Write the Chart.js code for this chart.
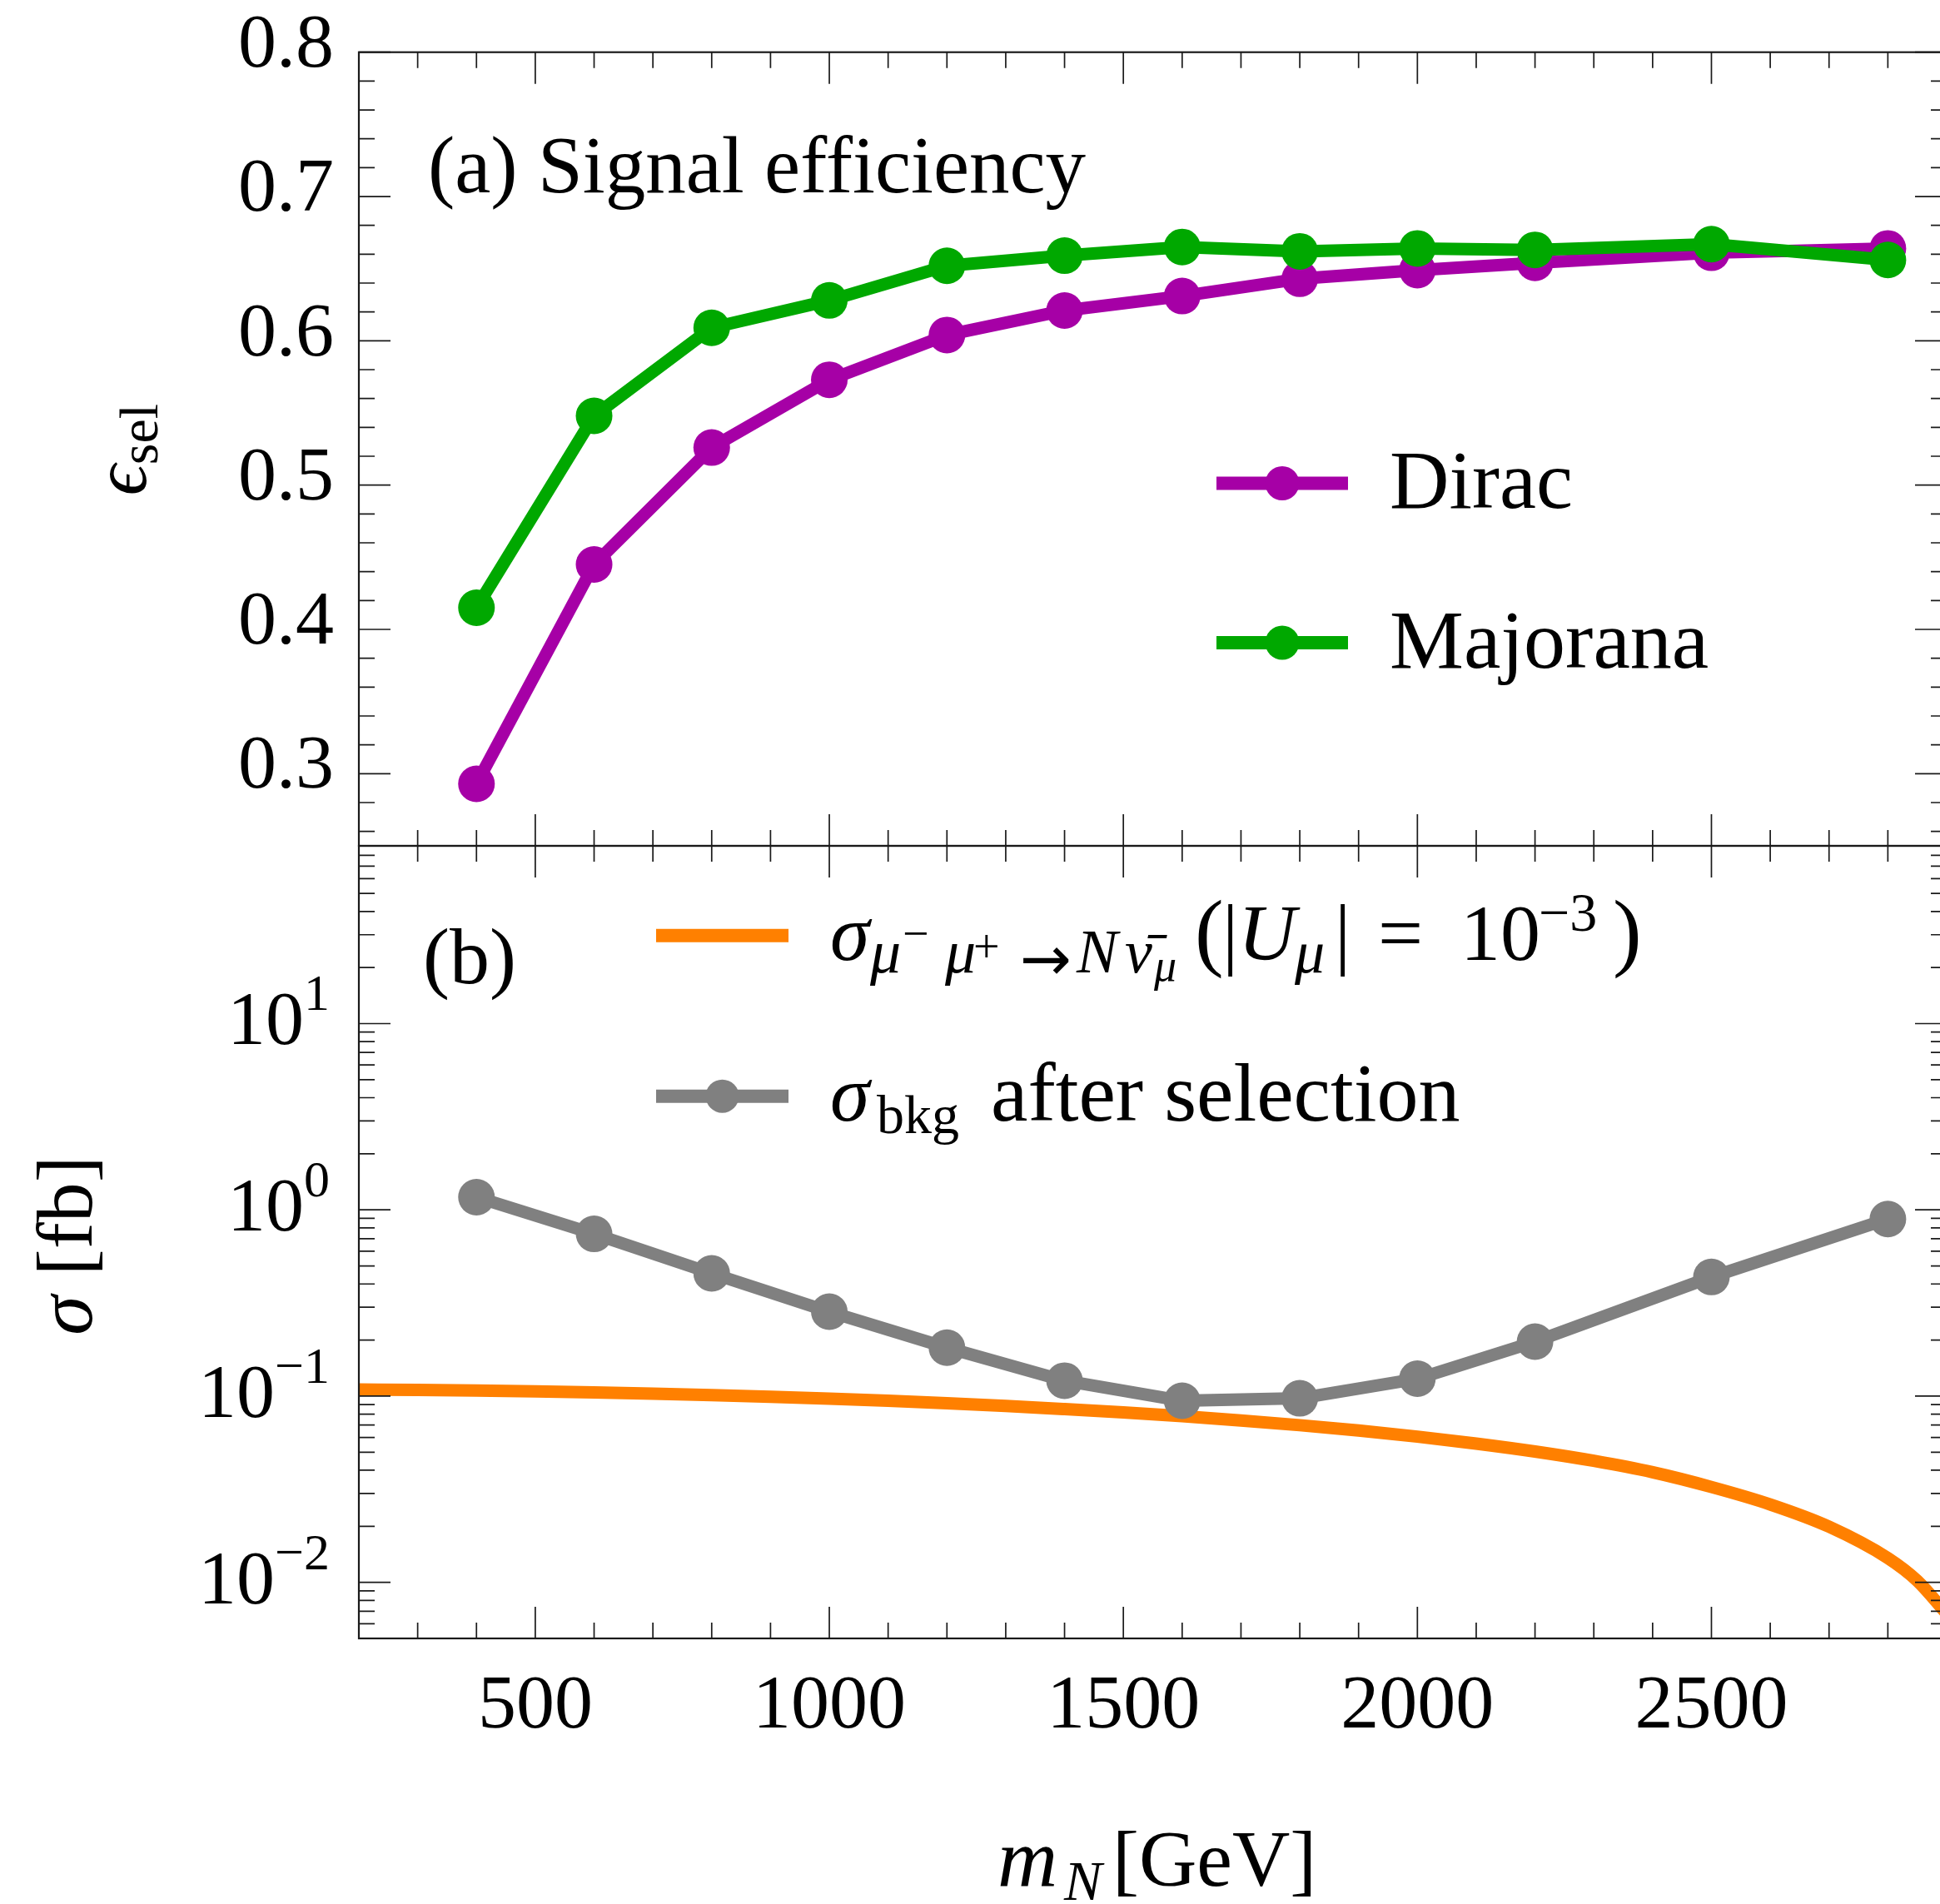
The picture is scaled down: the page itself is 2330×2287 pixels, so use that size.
<!DOCTYPE html>
<html><head><meta charset="utf-8">
<script src="https://cdn.jsdelivr.net/npm/chart.js@4"></script>
<style>
html,body{margin:0;padding:0;background:#fff;overflow:hidden}
#wrap{position:relative;width:2330px;height:2287px;overflow:hidden;background:#fff}
canvas{position:absolute;left:0}
</style></head><body>
<div id="wrap"><canvas id="cA"></canvas><canvas id="cB"></canvas></div>
<script>
// ---------- data ----------
const massPoints   = [400, 600, 800, 1000, 1200, 1400, 1600, 1800, 2000, 2200, 2500, 2800];
const diracEff     = [0.293, 0.445, 0.526, 0.573, 0.604, 0.621, 0.631, 0.643, 0.649, 0.654, 0.661, 0.664];
const majoranaEff  = [0.415, 0.548, 0.609, 0.628, 0.652, 0.659, 0.665, 0.662, 0.664, 0.663, 0.667, 0.656];
const bkgSigma     = [1.17, 0.743, 0.456, 0.284, 0.182, 0.121, 0.0944, 0.0973, 0.124, 0.196, 0.436, 0.893];
const signalMass   = [200, 300, 400, 500, 600, 700, 800, 900, 1000, 1100, 1200, 1300, 1400, 1500, 1600, 1700, 1800, 1900, 2000, 2100, 2200, 2300, 2400, 2500, 2600, 2700, 2800, 2850, 2900];
const signalSigma  = [0.1085, 0.1080, 0.1072, 0.1060, 0.1046, 0.1030, 0.1012, 0.0992, 0.0969, 0.0944, 0.0916, 0.0886, 0.0852, 0.0817, 0.0780, 0.0740, 0.0698, 0.0653, 0.0606, 0.0556, 0.0504, 0.0449, 0.0390, 0.0325, 0.0262, 0.0199, 0.0135, 0.0102, 0.0068];
const xTickLabels  = [500, 1000, 1500, 2000, 2500];
const effTickLabels = [0.3, 0.4, 0.5, 0.6, 0.7, 0.8];
const sigmaTickExponents = [-2, -1, 0, 1];

// ---------- style / layout ----------
const FAM = '"Liberation Serif", "DejaVu Serif", serif';
const PURPLE = '#A600A6', GREEN = '#00A800', ORANGE = '#FF8000', GRAY = '#808080';
const FRAME = '#1a1a1a';
const W = 2360;
const PLOT_LEFT = 431, PLOT_RIGHT = 2338.8;
const A_TOP = 62.7, MID = 1016, B_BOTTOM = 1968;
const A_Y0 = -40, A_H = 1160;          // canvas A spans page y -40 .. 1120
const B_Y0 = 990, B_H = 2287 - B_Y0;   // canvas B spans page y 990 .. 2287

function fnt(size, italic, fam) { return (italic ? 'italic ' : '') + size + 'px ' + (fam || FAM); }
function S(t, s, i, dy, ax, fam) { return {t, s, i: !!i, dy: dy || 0, ax: ax, fam: fam}; }
function rich(ctx, segs, x, y, align, rot) {
  ctx.save();
  ctx.translate(x, y);
  if (rot) ctx.rotate(rot);
  let w = 0;
  segs.forEach(s => { ctx.font = fnt(s.s, s.i, s.fam); s.w = ctx.measureText(s.t).width; w += s.w; });
  let cx = align === 'center' ? -w / 2 : (align === 'right' ? -w : 0);
  ctx.fillStyle = '#000'; ctx.textBaseline = 'alphabetic'; ctx.textAlign = 'left';
  segs.forEach(s => {
    if (s.ax !== undefined) cx = s.ax;
    ctx.font = fnt(s.s, s.i, s.fam); ctx.fillText(s.t, cx, s.dy); cx += s.w;
  });
  ctx.restore();
}
function legendSample(ctx, x0, x1, y, color, r) {
  ctx.save();
  ctx.strokeStyle = color; ctx.lineWidth = 16; ctx.lineCap = 'butt';
  ctx.beginPath(); ctx.moveTo(x0, y); ctx.lineTo(x1, y); ctx.stroke();
  if (r) { ctx.fillStyle = color; ctx.beginPath(); ctx.arc((x0 + x1) / 2, y, r, 0, Math.PI * 2); ctx.fill(); }
  ctx.restore();
}
function linTicks() { const t = []; for (let i = 13; i <= 40; i++) t.push([i / 50, i % 5 === 0]); return t; }
function logTicks() {
  const t = [];
  for (let d = -3; d <= 1; d++) for (let k = 1; k <= 9; k++) {
    const v = k * Math.pow(10, d);
    if (v >= 0.005 && v <= 90) t.push([v, k === 1]);
  }
  return t;
}
function frameTicks(chart, kind) {
  const {ctx, chartArea: a} = chart;
  const xs = chart.scales.x, ys = chart.scales.y;
  ctx.save();
  ctx.strokeStyle = FRAME; ctx.lineWidth = 1.7;
  ctx.beginPath();
  for (let m = 300; m <= 2800; m += 100) {
    const px = xs.getPixelForValue(m);
    const len = m % 500 === 0 ? 38 : 19;
    ctx.moveTo(px, a.top); ctx.lineTo(px, a.top + len);
    ctx.moveTo(px, a.bottom); ctx.lineTo(px, a.bottom - len);
  }
  (kind === 'lin' ? linTicks() : logTicks()).forEach(([v, major]) => {
    const py = ys.getPixelForValue(v);
    const len = major ? 38 : 19;
    ctx.moveTo(a.left, py); ctx.lineTo(a.left + len, py);
    ctx.moveTo(a.right, py); ctx.lineTo(a.right - len, py);
  });
  ctx.stroke();
  ctx.lineWidth = 2.2;
  ctx.strokeRect(a.left, a.top, a.right - a.left, a.bottom - a.top);
  ctx.restore();
}
// nudge layout padding until the chart area sits exactly where wanted
function fitArea(chart, top, bottom) {
  for (let it = 0; it < 5; it++) {
    const a = chart.chartArea, p = chart.config.options.layout.padding;
    const dr = a.right - PLOT_RIGHT, dt = top - a.top, db = a.bottom - bottom;
    if (Math.abs(dr) < 0.05 && Math.abs(dt) < 0.05 && Math.abs(db) < 0.05) break;
    chart.config.options.layout.padding = {left: p.left, right: p.right + dr, top: p.top + dt, bottom: p.bottom + db};
    chart.update('none');
  }
}

// ---------- canvases ----------
const cA = document.getElementById('cA'), cB = document.getElementById('cB');
cA.width = W; cA.height = A_H; cA.style.top = A_Y0 + 'px'; cA.style.width = W + 'px'; cA.style.height = A_H + 'px';
cB.width = W; cB.height = B_H; cB.style.top = B_Y0 + 'px'; cB.style.width = W + 'px'; cB.style.height = B_H + 'px';

const pts = (xs, ys) => xs.map((x, i) => ({x, y: ys[i]}));
const lineDs = (label, data, color) => ({
  label, data, borderColor: color, backgroundColor: color, borderWidth: 15,
  pointRadius: 22, pointHoverRadius: 22, pointBorderWidth: 0, pointBackgroundColor: color,
  borderJoinStyle: 'round', tension: 0
});

// ---------- panel (a) ----------
const chartA = new Chart(cA, {
  type: 'line',
  data: { datasets: [
    lineDs('Majorana', pts(massPoints, majoranaEff), GREEN),
    lineDs('Dirac', pts(massPoints, diracEff), PURPLE)
  ]},
  options: {
    responsive: false, animation: false, devicePixelRatio: 1,
    layout: { padding: { top: A_TOP - A_Y0, right: W - PLOT_RIGHT, bottom: A_H - (MID - A_Y0), left: 0 } },
    plugins: { legend: { display: false }, tooltip: { enabled: false } },
    scales: {
      x: { type: 'linear', min: 200, max: 2900, display: false },
      y: {
        type: 'linear', min: 0.25, max: 0.8,
        afterBuildTicks: s => { s.ticks = effTickLabels.map(v => ({value: v})); },
        afterFit: s => { s.width = PLOT_LEFT; },
        grid: { display: false, drawTicks: false }, border: { display: false },
        ticks: { font: { family: FAM, size: 92 }, color: '#000', padding: 30, labelOffset: -7,
                 callback: v => Number(v).toFixed(1) }
      }
    }
  },
  plugins: [{
    id: 'decorA',
    afterDraw(chart) {
      const ctx = chart.ctx, o = -A_Y0;
      frameTicks(chart, 'lin');
      rich(ctx, [S('(a) Signal efficiency', 97)], 514, 231 + o, 'left');
      legendSample(ctx, 1461, 1619, 580.5 + o, PURPLE, 20.5);
      legendSample(ctx, 1461, 1619, 772 + o, GREEN, 20.5);
      rich(ctx, [S('Dirac', 99)], 1669, 610 + o, 'left');
      rich(ctx, [S('Majorana', 100)], 1669, 802 + o, 'left');
      rich(ctx, [S('\u03F5', 92, true), S('sel', 66, false, 14)], 175, 540 + o, 'center', -Math.PI / 2);
    }
  }]
});
fitArea(chartA, A_TOP - A_Y0, MID - A_Y0);

// ---------- panel (b) ----------
const chartB = new Chart(cB, {
  type: 'line',
  data: { datasets: [
    lineDs('bkg', pts(massPoints, bkgSigma), GRAY),
    Object.assign(lineDs('signal', pts(signalMass, signalSigma), ORANGE),
      { pointRadius: 0, pointHoverRadius: 0, cubicInterpolationMode: 'monotone' })
  ]},
  options: {
    responsive: false, animation: false, devicePixelRatio: 1,
    layout: { padding: { top: MID - B_Y0, right: W - PLOT_RIGHT, bottom: 0, left: 0 } },
    plugins: { legend: { display: false }, tooltip: { enabled: false } },
    scales: {
      x: {
        type: 'linear', min: 200, max: 2900, position: 'bottom',
        afterBuildTicks: s => { s.ticks = xTickLabels.map(v => ({value: v})); },
        afterFit: s => { s.height = 2287 - B_BOTTOM; },
        grid: { display: false, drawTicks: false }, border: { display: false },
        ticks: { font: { family: FAM, size: 92 }, color: '#000', padding: 28, maxRotation: 0,
                 callback: v => String(v) }
      },
      y: {
        type: 'logarithmic', min: 0.005, max: 90,
        afterFit: s => { s.width = PLOT_LEFT; },
        grid: { display: false, drawTicks: false }, border: { display: false },
        ticks: { display: false }
      }
    }
  },
  plugins: [{
    id: 'decorB',
    afterDraw(chart) {
      const ctx = chart.ctx, ys = chart.scales.y, o = -B_Y0;
      frameTicks(chart, 'log');
      sigmaTickExponents.forEach(e => {
        const py = ys.getPixelForValue(Math.pow(10, e));
        const ex = (e < 0 ? '\u2212' : '') + Math.abs(e);
        rich(ctx, [S('10', 92), S(ex, 62, false, -41)], 396, py + 25, 'right');
      });
      rich(ctx, [S('(b)', 96)], 508, 1181 + o, 'left');
      legendSample(ctx, 788, 947, 1123.7 + o, ORANGE, 0);
      legendSample(ctx, 788, 947, 1316.7 + o, GRAY, 20);
      rich(ctx, [
        S('\u03C3', 96, true, 0, 0),
        S('\u03BC', 74, true, 15, 48), S('\u2212', 56, false, -13, 87),
        S('\u03BC', 74, true, 15, 138), S('+', 56, false, 3, 172),
        S('\u2192', 74, false, 24, 228, '"DejaVu Sans", sans-serif'),
        S('N', 74, true, 15, 296), S('\u03BD\u0304', 74, true, 15, 354),
        S('\u03BC', 54, true, 25, 389),
        S('(', 104, false, 0, 438), S('|', 96, false, 0, 471), S('U', 96, true, 0, 490),
        S('\u03BC', 72, true, 15, 558), S('|', 96, false, 0, 606),
        S('=', 96, false, 0, 658), S('10', 96, false, 0, 757), S('\u22123', 66, false, -35, 851),
        S(')', 104, false, 0, 940)
      ], 997, 1153 + o, 'left');
      rich(ctx, [S('\u03C3', 96, true, 0, 0), S('bkg', 66, false, 15, 56), S('after selection', 100, false, 0, 193)],
           997, 1346 + o, 'left');
      rich(ctx, [S('\u03C3', 96, true), S(' [fb]', 96)], 110, 1496 + o, 'center', -Math.PI / 2);
      rich(ctx, [S('m', 100, true, 0, 0), S('N', 68, true, 17, 80), S('[GeV]', 96, false, 0, 138)], 1198, 2265 + o, 'left');
    }
  }]
});
fitArea(chartB, MID - B_Y0, B_BOTTOM - B_Y0);
</script>
</body></html>
